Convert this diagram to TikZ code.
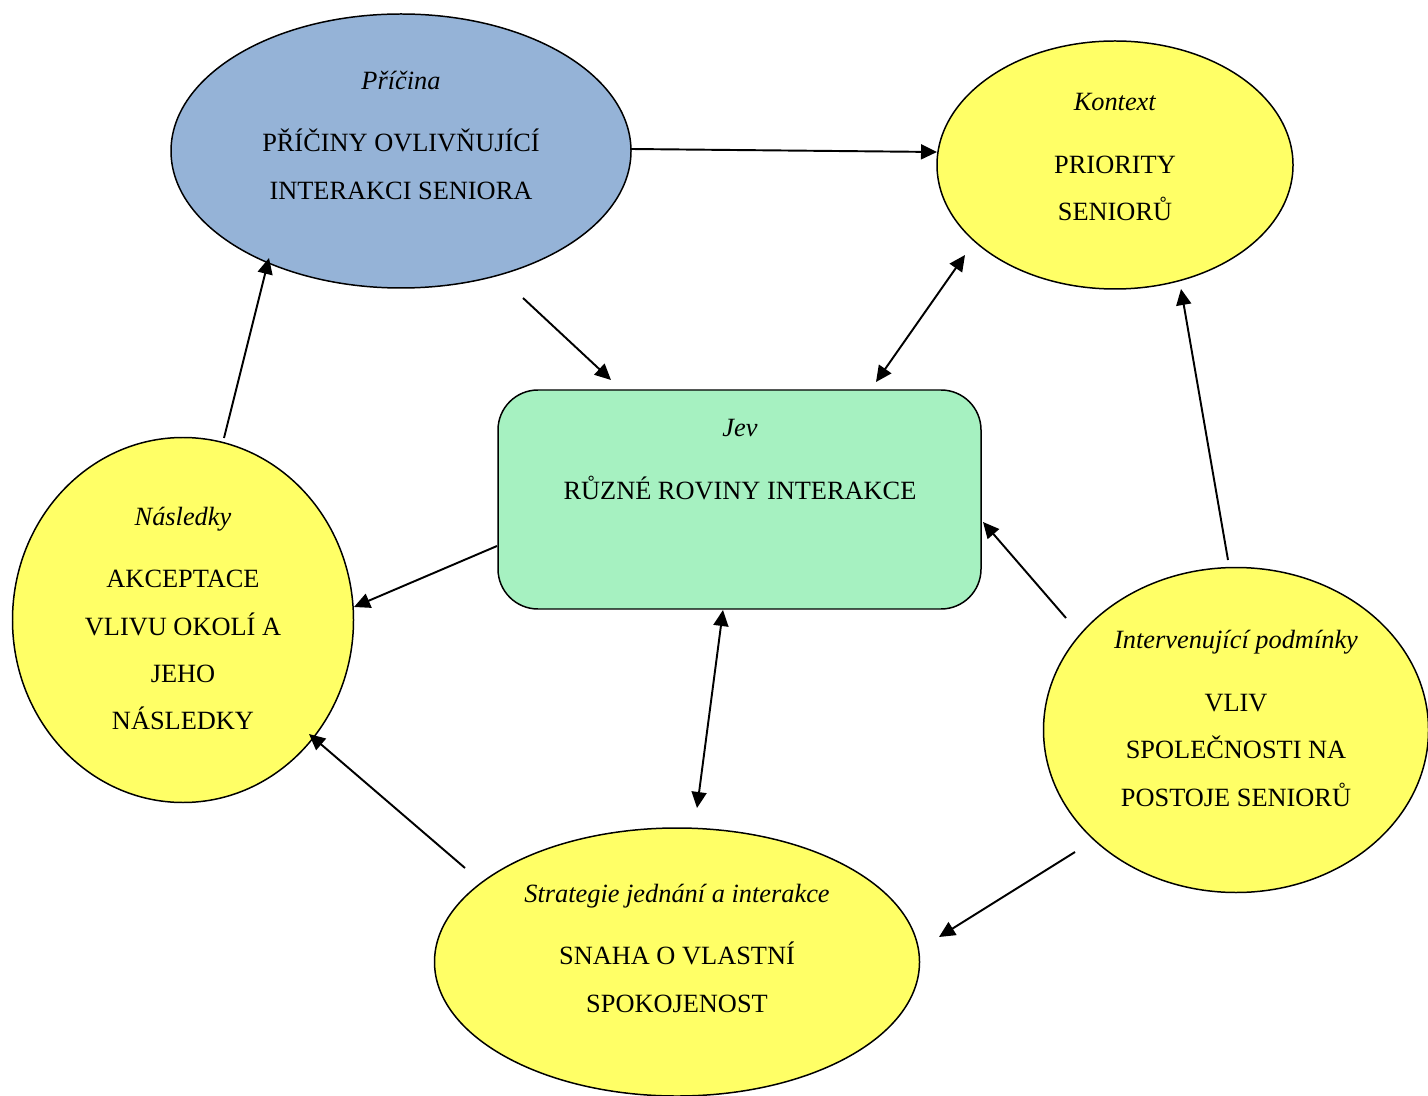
\documentclass[tikz,border=0pt]{standalone}
\usepackage{fontspec}
\setmainfont{Liberation Serif}
\usepackage{tikz}
\usetikzlibrary{arrows.meta,positioning,shapes}
\usepackage{xcolor}
\definecolor{modra}{HTML}{95B3D7}
\definecolor{zluta}{HTML}{FFFF66}
\definecolor{zelena}{HTML}{A6F1C1}

\begin{document}
\begin{tikzpicture}[
  oval/.style={ellipse, draw, line width=0.85pt, inner sep=0pt},
  txt/.style={align=center, inner sep=0pt, font=\fontsize{15}{27}\selectfont},
  sip/.style={line width=1.1pt, -{Triangle[length=0.32cm, width=0.3cm]}},
  dvojsip/.style={line width=1.1pt, {Triangle[length=0.32cm, width=0.3cm]}-{Triangle[length=0.32cm, width=0.3cm]}}]
  \useasboundingbox (0,0) rectangle (28.56,21.9);

  \node[oval, fill=modra, minimum width=9.2cm, minimum height=5.48cm] (pricina) at (8.02,18.88) {};
  \node[oval, fill=zluta, minimum width=7.12cm, minimum height=4.96cm] (kontext) at (22.3,18.6) {};
  \node[draw, line width=0.85pt, rounded corners=0.8cm, fill=zelena, minimum width=9.66cm, minimum height=4.38cm] (jev) at (14.79,11.91) {};
  \node[oval, fill=zluta, minimum width=6.82cm, minimum height=7.3cm] (nasledky) at (3.66,9.5) {};
  \node[oval, fill=zluta, minimum width=7.7cm, minimum height=6.5cm] (podminky) at (24.72,7.3) {};
  \node[oval, fill=zluta, minimum width=9.7cm, minimum height=5.36cm] (strategie) at (13.54,2.66) {};

  \node[txt] (pricina-txt) at (8.02,19.2) {\textit{Příčina}\\[8.6pt] PŘÍČINY OVLIVŇUJÍCÍ\\ INTERAKCI SENIORA};
  \node[txt] (kontext-txt) at (22.3,18.76) {\textit{Kontext}\\[8.6pt] PRIORITY\\ SENIORŮ};
  \node[txt] (jev-txt) at (14.8,12.71) {\textit{Jev}\\[8.6pt] RŮZNÉ ROVINY INTERAKCE};
  \node[txt] (nasledky-txt) at (3.66,9.53) {\textit{Následky}\\[8.6pt] AKCEPTACE\\ VLIVU OKOLÍ A\\ JEHO\\ NÁSLEDKY};
  \node[txt] (podminky-txt) at (24.72,7.53) {\textit{Intervenující podmínky}\\[8.6pt] VLIV\\ SPOLEČNOSTI NA\\ POSTOJE SENIORŮ};
  \node[txt] (strategie-txt) at (13.54,2.94) {\textit{Strategie jednání a interakce}\\[8.6pt] SNAHA O VLASTNÍ\\ SPOKOJENOST};

  % konce sipek
  \coordinate (a1) at (12.62,18.92);  \coordinate (b1) at (18.74,18.86);
  \coordinate (a2) at (10.46,15.94);  \coordinate (b2) at (12.22,14.30);
  \coordinate (a3) at (17.52,14.26);  \coordinate (b3) at (19.30,16.80);
  \coordinate (a4) at (24.56,10.70);  \coordinate (b4) at (23.62,16.12);
  \coordinate (a5) at (21.32,9.54);   \coordinate (b5) at (19.66,11.46);
  \coordinate (a6) at (9.94,10.98);   \coordinate (b6) at (7.08,9.76);
  \coordinate (a7) at (4.48,13.14);   \coordinate (b7) at (5.38,16.74);
  \coordinate (a8) at (9.30,4.54);    \coordinate (b8) at (6.18,7.22);
  \coordinate (a9) at (14.46,9.70);   \coordinate (b9) at (13.94,5.74);
  \coordinate (a10) at (21.50,4.86);  \coordinate (b10) at (18.78,3.16);

  \draw[sip] (a1) -- (b1);
  \draw[sip] (a2) -- (b2);
  \draw[dvojsip] (a3) -- (b3);
  \draw[sip] (a4) -- (b4);
  \draw[sip] (a5) -- (b5);
  \draw[sip] (a6) -- (b6);
  \draw[sip] (a7) -- (b7);
  \draw[sip] (a8) -- (b8);
  \draw[dvojsip] (a9) -- (b9);
  \draw[sip] (a10) -- (b10);
\end{tikzpicture}
\end{document}
